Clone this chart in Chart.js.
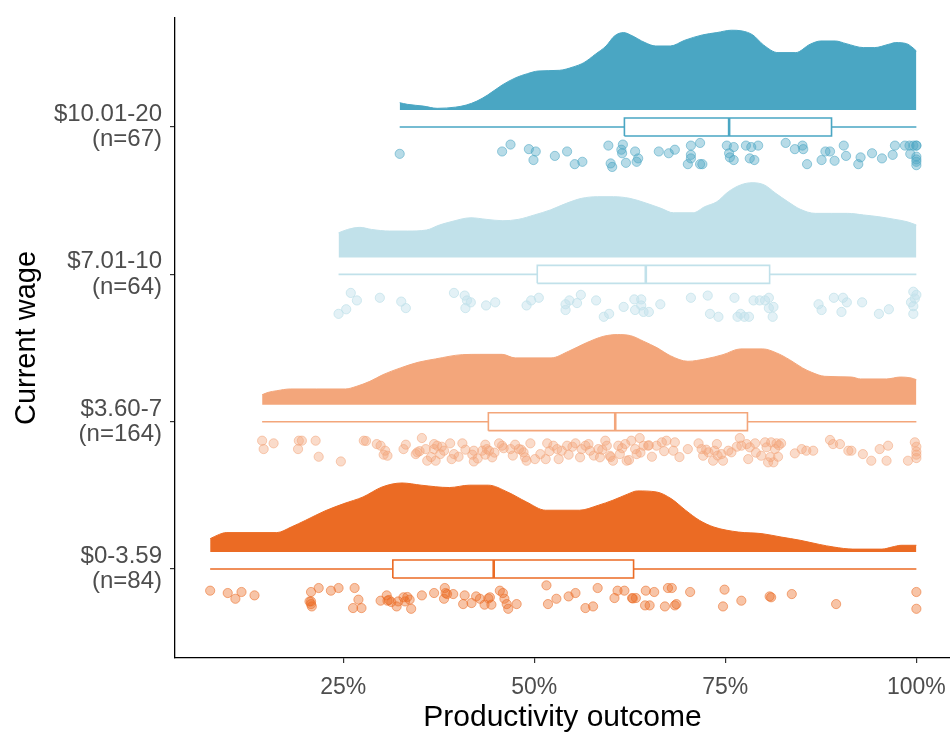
<!DOCTYPE html>
<html>
<head>
<meta charset="utf-8">
<script src="https://cdn.jsdelivr.net/npm/chart.js@4.4.0/dist/chart.umd.min.js"></script>
<style>
  html, body { margin: 0; padding: 0; background: #ffffff; overflow: hidden; }
  canvas { display: block; }
</style>
</head>
<body>
<canvas id="rain" width="950" height="733"></canvas>
<script>
// Wage bands, bottom to top
const wageGroups = ['$0-3.59', '$3.60-7', '$7.01-10', '$10.01-20'];
const groupSizes = [84, 164, 64, 67];
const groupColors = ['#EB6B24', '#F3A67B', '#C1E1EA', '#4AA6C3'];
const xTickValues = [25, 50, 75, 100];

// Box-plot summaries (productivity %, per band)
const whiskerLow = [7.6, 14.4, 24.4, 32.4];
const boxQ1 = [31.5, 44.0, 50.4, 61.8];
const boxMedian = [44.7, 60.6, 64.6, 75.5];
const boxQ3 = [63.0, 77.9, 80.8, 88.9];
const whiskerHigh = [100, 100, 100, 100];

// Half-violin density profiles: x in %, height in band units
const densX0 = [7.6, 8.8, 9.7, 16.3, 18.2, 20.1, 22.6, 25.1, 27.6, 30.1, 32.7, 35.2, 38.9, 41.5, 44.0, 46.5, 49.0, 51.5, 55.9, 58.4, 60.3, 62.2, 63.5, 66.0, 67.9, 69.8, 71.6, 73.5, 76.7, 79.8, 82.3, 84.8, 87.3, 89.2, 91.7, 95.5, 96.8, 98.0, 100];
const densH0 = [0.091, 0.120, 0.132, 0.132, 0.170, 0.216, 0.279, 0.329, 0.374, 0.442, 0.469, 0.454, 0.438, 0.454, 0.454, 0.408, 0.340, 0.284, 0.284, 0.318, 0.352, 0.393, 0.415, 0.408, 0.363, 0.284, 0.216, 0.170, 0.136, 0.125, 0.102, 0.080, 0.052, 0.034, 0.020, 0.020, 0.034, 0.046, 0.046];

const densX1 = [14.4, 15.2, 16.3, 18.1, 21.5, 25.3, 26.7, 28.5, 30.2, 32.5, 34.8, 37.1, 40.6, 42.9, 45.8, 47.5, 52.2, 54.5, 56.8, 59.1, 60.9, 62.6, 64.3, 66.1, 67.8, 70.1, 72.4, 74.7, 77.0, 79.9, 81.7, 83.4, 85.1, 86.3, 88.0, 91.5, 92.7, 96.1, 97.9, 99.3, 100];
const densH1 = [0.068, 0.084, 0.095, 0.107, 0.107, 0.107, 0.124, 0.159, 0.204, 0.250, 0.288, 0.311, 0.340, 0.342, 0.342, 0.318, 0.318, 0.363, 0.420, 0.465, 0.476, 0.469, 0.431, 0.386, 0.333, 0.295, 0.311, 0.340, 0.379, 0.379, 0.352, 0.306, 0.250, 0.220, 0.193, 0.188, 0.175, 0.175, 0.188, 0.182, 0.170];

const densX2 = [24.4, 25.6, 27.2, 28.7, 31.1, 33.4, 35.9, 37.6, 39.1, 41.7, 43.8, 45.9, 47.9, 50.0, 52.1, 54.2, 56.2, 58.3, 60.4, 62.5, 64.5, 66.6, 68.2, 70.8, 72.3, 73.9, 75.4, 77.0, 78.5, 80.1, 81.6, 83.2, 84.8, 86.8, 88.9, 91.0, 93.1, 95.1, 97.2, 98.8, 100];
const densH2 = [0.167, 0.190, 0.204, 0.190, 0.179, 0.179, 0.186, 0.220, 0.242, 0.269, 0.258, 0.249, 0.258, 0.288, 0.322, 0.367, 0.401, 0.412, 0.412, 0.401, 0.371, 0.333, 0.303, 0.303, 0.344, 0.378, 0.446, 0.492, 0.507, 0.492, 0.435, 0.378, 0.327, 0.299, 0.299, 0.299, 0.288, 0.276, 0.258, 0.242, 0.220];

const densX3 = [32.4, 33.4, 35.5, 37.3, 39.7, 41.1, 42.5, 43.9, 45.8, 47.6, 49.1, 50.5, 53.3, 55.1, 56.5, 58.0, 59.4, 60.5, 61.7, 62.6, 64.5, 65.9, 67.8, 69.7, 72.0, 73.9, 75.8, 77.2, 78.6, 80.0, 81.9, 84.2, 86.1, 87.5, 89.4, 90.8, 93.1, 94.5, 96.4, 97.3, 98.7, 99.4, 100];
const densH3 = [0.050, 0.039, 0.027, 0.012, 0.020, 0.034, 0.061, 0.102, 0.170, 0.220, 0.247, 0.265, 0.270, 0.293, 0.322, 0.379, 0.435, 0.503, 0.526, 0.510, 0.458, 0.435, 0.435, 0.474, 0.510, 0.526, 0.542, 0.537, 0.510, 0.442, 0.390, 0.390, 0.447, 0.469, 0.469, 0.451, 0.424, 0.424, 0.447, 0.458, 0.451, 0.429, 0.401];

// Individual responses: productivity % and vertical jitter below the box (band units)
const obs0 = [7.6, 9.9, 10.9, 11.7, 13.4, 20.8, 20.6, 20.8, 20.9, 21.8, 23.4, 24.4, 26.5, 27.0, 26.3, 27.4, 29.9, 30.7, 30.8, 31.3, 32.0, 32.2, 32.9, 33.1, 33.7, 33.9, 35.3, 36.9, 38.3, 38.4, 38.2, 39.4, 40.9, 40.7, 41.8, 42.4, 42.9, 43.5, 44.2, 44.4, 45.5, 45.9, 46.1, 46.4, 46.6, 47.7, 51.6, 51.8, 52.9, 54.5, 55.4, 56.7, 57.7, 58.3, 60.5, 60.9, 61.8, 62.8, 63.3, 64.6, 64.5, 65.1, 65.7, 67.1, 67.5, 68.0, 68.4, 68.6, 70.4, 74.9, 74.7, 77.1, 80.8, 81.0, 83.7, 89.5, 100, 100, 31.0, 33.4, 38.6, 44.0, 62.9, 20.8];
const jit0 = [0.147, 0.163, 0.202, 0.156, 0.179, 0.156, 0.220, 0.238, 0.254, 0.129, 0.147, 0.129, 0.129, 0.208, 0.265, 0.265, 0.215, 0.179, 0.215, 0.224, 0.254, 0.220, 0.192, 0.220, 0.208, 0.270, 0.179, 0.163, 0.129, 0.163, 0.202, 0.170, 0.179, 0.238, 0.231, 0.186, 0.202, 0.242, 0.192, 0.242, 0.147, 0.163, 0.202, 0.238, 0.270, 0.238, 0.111, 0.238, 0.202, 0.186, 0.163, 0.265, 0.254, 0.129, 0.197, 0.147, 0.147, 0.197, 0.197, 0.147, 0.247, 0.247, 0.156, 0.254, 0.129, 0.129, 0.247, 0.238, 0.156, 0.140, 0.254, 0.215, 0.186, 0.192, 0.170, 0.238, 0.156, 0.270, 0.210, 0.190, 0.170, 0.200, 0.200, 0.220];

const obs1 = [14.4, 14.6, 15.9, 19.2, 19.6, 19.1, 21.4, 21.8, 24.7, 27.7, 28.0, 29.4, 29.9, 30.5, 30.8, 30.3, 33.2, 32.9, 34.5, 34.7, 35.3, 35.8, 36.0, 36.9, 37.1, 36.9, 37.3, 37.7, 38.2, 39.0, 39.2, 40.1, 40.6, 42.1, 41.9, 42.1, 43.2, 43.6, 43.8, 43.6, 44.1, 44.5, 45.4, 45.8, 46.9, 47.5, 48.0, 48.6, 48.8, 49.0, 49.5, 50.1, 51.5, 51.7, 52.5, 53.0, 53.2, 53.6, 54.3, 54.5, 55.4, 56.0, 56.2, 56.7,
  57.1, 57.3, 58.4, 58.6, 59.3, 59.5, 59.9, 60.3, 61.0, 61.2, 61.9, 62.1, 62.7, 63.2, 63.4, 63.8, 64.3, 64.9, 65.4, 66.0, 66.7, 67.3, 68.2, 68.4, 70.1, 71.5, 71.9, 72.1, 72.8, 73.4, 73.6, 73.9, 74.5, 74.7, 75.4, 75.8, 76.9, 77.1, 77.8, 78.0, 78.2, 78.9, 79.7, 80.2, 80.4, 80.6, 81.0, 81.3, 81.5, 81.7, 81.9, 82.3, 84.1, 85.0, 85.6, 86.5, 88.7, 89.1, 90.0, 91.1, 91.5, 93.0, 94.1, 95.2, 96.1, 96.3, 98.9, 99.8, 100, 100, 100, 100,
  35.0, 36.5, 37.9, 39.5, 41.0, 42.6, 44.8, 46.0, 47.2, 48.3, 50.8, 52.0, 55.0, 57.8, 58.9, 60.0, 61.5, 62.4, 63.9, 65.0, 67.0, 69.0, 72.5, 74.0, 76.5, 79.0, 80.9, 82.0];
const jit1 = [0.129, 0.186, 0.147, 0.129, 0.129, 0.186, 0.129, 0.238, 0.270, 0.129, 0.131, 0.152, 0.163, 0.197, 0.231, 0.224, 0.156, 0.186, 0.220, 0.208, 0.111, 0.186, 0.265, 0.152, 0.265, 0.186, 0.163, 0.220, 0.197, 0.147, 0.254, 0.238, 0.147, 0.197, 0.224, 0.270, 0.197, 0.156, 0.186, 0.224, 0.197, 0.242, 0.147, 0.163, 0.186, 0.156, 0.186, 0.208, 0.242, 0.265, 0.147, 0.254, 0.254, 0.147, 0.163, 0.186, 0.254, 0.197, 0.163, 0.224, 0.147, 0.242, 0.186, 0.163,
  0.152, 0.197, 0.186, 0.242, 0.129, 0.163, 0.231, 0.265, 0.163, 0.220, 0.152, 0.265, 0.129, 0.186, 0.220, 0.111, 0.163, 0.163, 0.238, 0.163, 0.140, 0.129, 0.197, 0.140, 0.186, 0.147, 0.186, 0.231, 0.208, 0.265, 0.197, 0.152, 0.220, 0.265, 0.197, 0.208, 0.111, 0.163, 0.152, 0.254, 0.174, 0.147, 0.231, 0.140, 0.174, 0.276, 0.140, 0.276, 0.186, 0.147, 0.238, 0.147, 0.215, 0.186, 0.197, 0.197, 0.124, 0.152, 0.152, 0.197, 0.197, 0.220, 0.265, 0.186, 0.265, 0.163, 0.265, 0.140, 0.170, 0.202, 0.224, 0.247,
  0.200, 0.240, 0.170, 0.220, 0.190, 0.250, 0.210, 0.180, 0.230, 0.190, 0.220, 0.200, 0.170, 0.230, 0.190, 0.240, 0.180, 0.260, 0.210, 0.160, 0.200, 0.240, 0.190, 0.230, 0.170, 0.210, 0.240, 0.160];

const obs2 = [24.4, 25.4, 26.0, 26.8, 29.8, 32.6, 33.2, 39.5, 40.9, 41.2, 41.7, 41.0, 43.7, 44.9, 49.0, 49.6, 50.6, 54.1, 54.6, 54.1, 55.6, 56.1, 58.1, 59.1, 59.8, 61.7, 63.1, 63.2, 64.0, 64.0, 64.3, 65.0, 66.5, 70.5, 72.7, 73.0, 74.1, 76.2, 76.6, 77.0, 77.5, 78.1, 78.7, 79.5, 80.2, 80.7, 80.7, 81.3, 81.2, 87.2, 87.6, 89.2, 90.4, 90.9, 90.2, 92.9, 95.1, 96.4, 99.6, 99.8, 99.3, 99.6, 100, 99.6];
const jit2 = [0.268, 0.237, 0.126, 0.177, 0.159, 0.185, 0.229, 0.126, 0.144, 0.177, 0.190, 0.229, 0.211, 0.190, 0.211, 0.177, 0.159, 0.203, 0.177, 0.242, 0.195, 0.139, 0.177, 0.288, 0.268, 0.221, 0.170, 0.242, 0.170, 0.211, 0.255, 0.255, 0.203, 0.159, 0.144, 0.268, 0.288, 0.159, 0.288, 0.268, 0.288, 0.288, 0.177, 0.177, 0.177, 0.159, 0.229, 0.221, 0.288, 0.203, 0.242, 0.159, 0.159, 0.190, 0.255, 0.190, 0.268, 0.237, 0.118, 0.164, 0.190, 0.268, 0.139, 0.216];

const obs3 = [32.4, 45.8, 46.9, 49.3, 50.2, 49.9, 52.7, 54.3, 55.3, 56.3, 59.7, 61.6, 61.4, 61.5, 63.2, 63.6, 63.4, 62.0, 60.0, 60.2, 66.3, 67.6, 68.4, 70.5, 71.7, 70.5, 70.5, 70.1, 71.7, 72.0, 75.2, 76.1, 75.5, 75.6, 76.1, 77.7, 78.4, 79.3, 78.2, 78.8, 82.9, 84.1, 85.1, 85.2, 85.7, 87.6, 88.1, 88.7, 89.3, 90.5, 90.8, 92.4, 92.7, 94.2, 95.5, 96.9, 97.2, 98.5, 99.1, 99.6, 100, 99.2, 100, 100, 100, 100, 100];
const jit3 = [0.182, 0.166, 0.119, 0.150, 0.166, 0.224, 0.196, 0.166, 0.252, 0.236, 0.126, 0.119, 0.154, 0.178, 0.166, 0.213, 0.236, 0.243, 0.247, 0.271, 0.166, 0.178, 0.154, 0.126, 0.108, 0.189, 0.213, 0.252, 0.252, 0.252, 0.126, 0.136, 0.178, 0.206, 0.224, 0.126, 0.136, 0.126, 0.213, 0.224, 0.108, 0.150, 0.126, 0.150, 0.252, 0.224, 0.166, 0.166, 0.229, 0.126, 0.196, 0.252, 0.206, 0.178, 0.213, 0.189, 0.126, 0.126, 0.126, 0.126, 0.126, 0.182, 0.220, 0.259, 0.126, 0.201, 0.236];

const densX = [densX0, densX1, densX2, densX3];
const densH = [densH0, densH1, densH2, densH3];
const obs = [obs0, obs1, obs2, obs3];
const jit = [jit0, jit1, jit2, jit3];

// Layout of each band around its category position
const CLOUD_GAP = 0.115;   // gap between box centre line and density baseline
const BOX_HALF = 0.061;    // half height of the box
const FONT = "'Liberation Sans', Arial, Helvetica, sans-serif";

function rgba(hex, a) {
  const n = parseInt(hex.slice(1), 16);
  return `rgba(${(n >> 16) & 255},${(n >> 8) & 255},${n & 255},${a})`;
}

const datasets = [];
wageGroups.forEach((name, i) => {
  const pos = i + 1;
  const col = groupColors[i];
  const light = i === 2;

  // rain: jittered raw observations
  datasets.push({
    type: 'line', showLine: false, order: 3,
    data: obs[i].map((v, k) => ({ x: v, y: pos - jit[i][k] })),
    pointRadius: 4.6, pointHoverRadius: 4.6,
    pointBackgroundColor: rgba(col, light ? 0.45 : 0.4),
    pointBorderColor: rgba(col, light ? 0.75 : 0.55),
    pointBorderWidth: 1
  });

  // cloud: half violin above the box
  datasets.push({
    type: 'line', order: 2,
    data: densX[i].map((v, k) => ({ x: v, y: pos + CLOUD_GAP + densH[i][k] })),
    fill: { value: pos + CLOUD_GAP },
    backgroundColor: col, borderColor: col, borderWidth: 1,
    pointRadius: 0, cubicInterpolationMode: 'monotone'
  });

  // whiskers
  datasets.push({
    type: 'line', order: 1, spanGaps: false,
    data: [
      { x: whiskerLow[i], y: pos }, { x: boxQ1[i], y: pos },
      { x: boxMedian[i], y: null },
      { x: boxQ3[i], y: pos }, { x: whiskerHigh[i], y: pos }
    ],
    borderColor: col, borderWidth: 1.6, pointRadius: 0, fill: false
  });

  // box outline
  datasets.push({
    type: 'line', order: 1,
    data: [
      { x: boxQ1[i], y: pos - BOX_HALF }, { x: boxQ1[i], y: pos + BOX_HALF },
      { x: boxQ3[i], y: pos + BOX_HALF }, { x: boxQ3[i], y: pos - BOX_HALF },
      { x: boxQ1[i], y: pos - BOX_HALF }
    ],
    borderColor: col, borderWidth: 1.6, pointRadius: 0, fill: false, tension: 0
  });

  // median bar
  datasets.push({
    type: 'line', order: 1,
    data: [{ x: boxMedian[i], y: pos - BOX_HALF }, { x: boxMedian[i], y: pos + BOX_HALF }],
    borderColor: col, borderWidth: 2.6, pointRadius: 0, fill: false
  });
});

new Chart(document.getElementById('rain'), {
  type: 'line',
  data: { datasets },
  options: {
    responsive: false,
    animation: false,
    devicePixelRatio: 1,
    layout: { autoPadding: false, padding: { top: 18, right: 0, bottom: 0, left: 0 } },
    plugins: { legend: { display: false }, tooltip: { enabled: false } },
    scales: {
      x: {
        type: 'linear', min: 3.0, max: 104.4,
        afterBuildTicks: a => { a.ticks = xTickValues.map(v => ({ value: v })); },
        afterFit: a => { a.height = 75; a.paddingLeft = 0; a.paddingRight = 0; },
        ticks: {
          autoSkip: false, maxRotation: 0, padding: 11,
          color: '#4D4D4D', font: { family: FONT, size: 23 },
          callback: v => v + '%'
        },
        grid: { display: true, drawOnChartArea: false, drawTicks: true, tickLength: 5, color: '#333333', lineWidth: 1.2 },
        border: { display: true, color: '#000000', width: 1.3 },
        title: {
          display: true, text: 'Productivity outcome', color: '#000000',
          font: { family: FONT, size: 30, lineHeight: 1.0 }, padding: { top: 0, bottom: 0 }
        }
      },
      y: {
        type: 'linear', min: 0.396, max: 4.74,
        afterBuildTicks: a => { a.ticks = [1, 2, 3, 4].map(v => ({ value: v })); },
        afterFit: a => { a.width = 175; a.paddingTop = 0; a.paddingBottom = 0; },
        ticks: {
          padding: 8, color: '#4D4D4D',
          font: { family: FONT, size: 24, lineHeight: 1.05 },
          callback: v => [wageGroups[v - 1], '(n=' + groupSizes[v - 1] + ')']
        },
        grid: { display: true, drawOnChartArea: false, drawTicks: true, tickLength: 5, color: '#333333', lineWidth: 1.2 },
        border: { display: true, color: '#000000', width: 1.3 },
        title: {
          display: true, text: 'Current wage', color: '#000000',
          font: { family: FONT, size: 29, lineHeight: 1.0 }, padding: { top: 12, bottom: 0 }
        }
      }
    }
  }
});
</script>
</body>
</html>
